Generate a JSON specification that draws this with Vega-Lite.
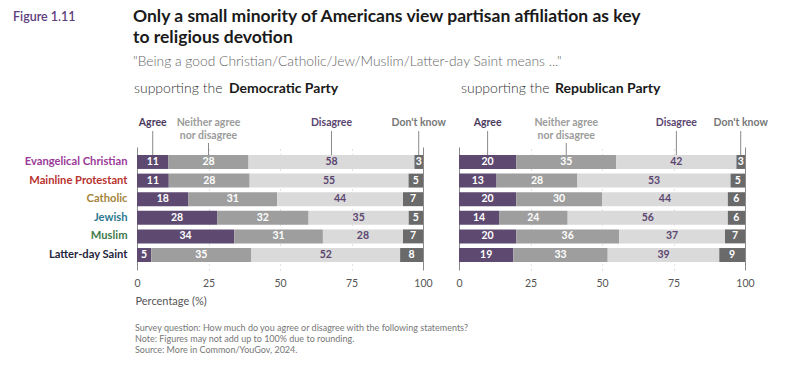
{
  "$schema": "https://vega.github.io/schema/vega-lite/v6.json",
  "padding": {"left": 13, "top": 8, "right": 5, "bottom": 0},
  "bounds": "flush",
  "spacing": 36,
  "config": {"view": {"stroke": null}, "font": "Lato"},
  "datasets": {
    "survey": [
      {"party": "Democratic", "religion": "Evangelical Christian", "category": "Agree", "order": 1, "value": 11},
      {"party": "Democratic", "religion": "Evangelical Christian", "category": "Neither agree nor disagree", "order": 2, "value": 28},
      {"party": "Democratic", "religion": "Evangelical Christian", "category": "Disagree", "order": 3, "value": 58},
      {"party": "Democratic", "religion": "Evangelical Christian", "category": "Don't know", "order": 4, "value": 3},
      {"party": "Democratic", "religion": "Mainline Protestant", "category": "Agree", "order": 1, "value": 11},
      {"party": "Democratic", "religion": "Mainline Protestant", "category": "Neither agree nor disagree", "order": 2, "value": 28},
      {"party": "Democratic", "religion": "Mainline Protestant", "category": "Disagree", "order": 3, "value": 55},
      {"party": "Democratic", "religion": "Mainline Protestant", "category": "Don't know", "order": 4, "value": 5},
      {"party": "Democratic", "religion": "Catholic", "category": "Agree", "order": 1, "value": 18},
      {"party": "Democratic", "religion": "Catholic", "category": "Neither agree nor disagree", "order": 2, "value": 31},
      {"party": "Democratic", "religion": "Catholic", "category": "Disagree", "order": 3, "value": 44},
      {"party": "Democratic", "religion": "Catholic", "category": "Don't know", "order": 4, "value": 7},
      {"party": "Democratic", "religion": "Jewish", "category": "Agree", "order": 1, "value": 28},
      {"party": "Democratic", "religion": "Jewish", "category": "Neither agree nor disagree", "order": 2, "value": 32},
      {"party": "Democratic", "religion": "Jewish", "category": "Disagree", "order": 3, "value": 35},
      {"party": "Democratic", "religion": "Jewish", "category": "Don't know", "order": 4, "value": 5},
      {"party": "Democratic", "religion": "Muslim", "category": "Agree", "order": 1, "value": 34},
      {"party": "Democratic", "religion": "Muslim", "category": "Neither agree nor disagree", "order": 2, "value": 31},
      {"party": "Democratic", "religion": "Muslim", "category": "Disagree", "order": 3, "value": 28},
      {"party": "Democratic", "religion": "Muslim", "category": "Don't know", "order": 4, "value": 7},
      {"party": "Democratic", "religion": "Latter-day Saint", "category": "Agree", "order": 1, "value": 5},
      {"party": "Democratic", "religion": "Latter-day Saint", "category": "Neither agree nor disagree", "order": 2, "value": 35},
      {"party": "Democratic", "religion": "Latter-day Saint", "category": "Disagree", "order": 3, "value": 52},
      {"party": "Democratic", "religion": "Latter-day Saint", "category": "Don't know", "order": 4, "value": 8},
      {"party": "Republican", "religion": "Evangelical Christian", "category": "Agree", "order": 1, "value": 20},
      {"party": "Republican", "religion": "Evangelical Christian", "category": "Neither agree nor disagree", "order": 2, "value": 35},
      {"party": "Republican", "religion": "Evangelical Christian", "category": "Disagree", "order": 3, "value": 42},
      {"party": "Republican", "religion": "Evangelical Christian", "category": "Don't know", "order": 4, "value": 3},
      {"party": "Republican", "religion": "Mainline Protestant", "category": "Agree", "order": 1, "value": 13},
      {"party": "Republican", "religion": "Mainline Protestant", "category": "Neither agree nor disagree", "order": 2, "value": 28},
      {"party": "Republican", "religion": "Mainline Protestant", "category": "Disagree", "order": 3, "value": 53},
      {"party": "Republican", "religion": "Mainline Protestant", "category": "Don't know", "order": 4, "value": 5},
      {"party": "Republican", "religion": "Catholic", "category": "Agree", "order": 1, "value": 20},
      {"party": "Republican", "religion": "Catholic", "category": "Neither agree nor disagree", "order": 2, "value": 30},
      {"party": "Republican", "religion": "Catholic", "category": "Disagree", "order": 3, "value": 44},
      {"party": "Republican", "religion": "Catholic", "category": "Don't know", "order": 4, "value": 6},
      {"party": "Republican", "religion": "Jewish", "category": "Agree", "order": 1, "value": 14},
      {"party": "Republican", "religion": "Jewish", "category": "Neither agree nor disagree", "order": 2, "value": 24},
      {"party": "Republican", "religion": "Jewish", "category": "Disagree", "order": 3, "value": 56},
      {"party": "Republican", "religion": "Jewish", "category": "Don't know", "order": 4, "value": 6},
      {"party": "Republican", "religion": "Muslim", "category": "Agree", "order": 1, "value": 20},
      {"party": "Republican", "religion": "Muslim", "category": "Neither agree nor disagree", "order": 2, "value": 36},
      {"party": "Republican", "religion": "Muslim", "category": "Disagree", "order": 3, "value": 37},
      {"party": "Republican", "religion": "Muslim", "category": "Don't know", "order": 4, "value": 7},
      {"party": "Republican", "religion": "Latter-day Saint", "category": "Agree", "order": 1, "value": 19},
      {"party": "Republican", "religion": "Latter-day Saint", "category": "Neither agree nor disagree", "order": 2, "value": 33},
      {"party": "Republican", "religion": "Latter-day Saint", "category": "Disagree", "order": 3, "value": 39},
      {"party": "Republican", "religion": "Latter-day Saint", "category": "Don't know", "order": 4, "value": 9}
    ]
  },
  "hconcat": [
    {
      "width": 286,
      "height": 123,
      "data": {"name": "survey"},
      "transform": [
        {"filter": "datum.party === 'Democratic'"},
        {"stack": "value", "groupby": ["religion"], "sort": [{"field": "order"}], "offset": "normalize", "as": ["x0", "x1"]},
        {"calculate": "(datum.x0 + datum.x1) / 2", "as": "xm"}
      ],
      "layer": [
        {
          "mark": {"type": "bar"},
          "encoding": {
            "y": {
              "field": "religion", "type": "nominal",
              "sort": ["Evangelical Christian", "Mainline Protestant", "Catholic", "Jewish", "Muslim", "Latter-day Saint"],
              "scale": {"paddingInner": 0.25, "paddingOuter": 0.43},
              "axis": {
                "title": null, "domain": false, "ticks": false, "labelPadding": 10,
                "labelFontSize": 11.2, "labelFontWeight": "bold",
                "labelColor": {
                  "condition": [
                    {"test": "datum.value === 'Evangelical Christian'", "value": "#9a3a98"},
                    {"test": "datum.value === 'Mainline Protestant'", "value": "#b8332f"},
                    {"test": "datum.value === 'Catholic'", "value": "#a4853c"},
                    {"test": "datum.value === 'Jewish'", "value": "#2f7890"},
                    {"test": "datum.value === 'Muslim'", "value": "#3f7a4b"}
                  ],
                  "value": "#1f2640"
                }
              }
            },
            "x": {
              "field": "x0", "type": "quantitative", "scale": {"domain": [0, 1]},
              "axis": {
                "values": [0, 0.25, 0.5, 0.75, 1],
                "labelExpr": "format(datum.value * 100, 'd')",
                "domain": false, "ticks": false, "grid": true, "labelFlush": false,
                "gridColor": {"condition": {"test": "datum.value === 0 || datum.value === 1", "value": "#8a8a8a"}, "value": "#c4c4c4"},
                "gridDash": {"condition": {"test": "datum.value === 0 || datum.value === 1", "value": []}, "value": [1, 4]},
                "labelFontSize": 10.5, "labelColor": "#555555", "labelPadding": 8,
                "title": "Percentage (%)", "titleFontWeight": "normal", "titleFontSize": 11, "titleColor": "#555555",
                "titleAnchor": "start", "titleAlign": "left", "titleBaseline": "middle", "titleX": -2, "titleY": 31
              }
            },
            "x2": {"field": "x1"},
            "color": {
              "field": "category", "type": "nominal",
              "scale": {"domain": ["Agree", "Neither agree nor disagree", "Disagree", "Don't know"], "range": ["#5e4a70", "#9e9e9e", "#dadada", "#6a6a6a"]},
              "legend": null
            }
          }
        },
        {
          "mark": {"type": "text", "fontWeight": "bold", "fontSize": 10.5, "baseline": "middle"},
          "encoding": {
            "y": {"field": "religion", "type": "nominal", "sort": ["Evangelical Christian", "Mainline Protestant", "Catholic", "Jewish", "Muslim", "Latter-day Saint"]},
            "x": {"field": "xm", "type": "quantitative"},
            "text": {"field": "value"},
            "color": {"condition": {"test": "datum.category === 'Disagree'", "value": "#5b4670"}, "value": "#ffffff"}
          }
        },
        {
          "transform": [
            {"filter": "datum.religion === 'Evangelical Christian'"},
            {"calculate": "datum.category === 'Neither agree nor disagree' ? ['Neither agree', 'nor disagree'] : datum.category", "as": "header"}
          ],
          "mark": {"type": "text", "fontWeight": "bold", "fontSize": 10.5, "baseline": "top", "lineHeight": 12.5},
          "encoding": {
            "x": {"field": "xm", "type": "quantitative"},
            "y": {"value": -29},
            "text": {"field": "header"},
            "color": {
              "condition": [
                {"test": "datum.category === 'Agree'", "value": "#4b3b5e"},
                {"test": "datum.category === 'Disagree'", "value": "#5b4670"},
                {"test": "datum.category === 'Don\\'t know'", "value": "#777777"}
              ],
              "value": "#9c9c9c"
            }
          }
        },
        {
          "transform": [{"filter": "datum.religion === 'Evangelical Christian' && datum.order !== 2"}],
          "mark": {"type": "rule", "color": "#8a8a8a", "strokeWidth": 1},
          "encoding": {"x": {"field": "xm", "type": "quantitative"}, "y": {"value": -16}, "y2": {"value": 8}}
        },
        {
          "transform": [{"filter": "datum.religion === 'Evangelical Christian' && datum.order === 2"}],
          "mark": {"type": "rule", "color": "#8a8a8a", "strokeWidth": 1},
          "encoding": {"x": {"field": "xm", "type": "quantitative"}, "y": {"value": -4}, "y2": {"value": 8}}
        },
        {
          "transform": [{"filter": "datum.religion === 'Evangelical Christian' && datum.order === 1"}],
          "layer": [
            {
              "mark": {"type": "text", "text": "Figure 1.11", "fontSize": 12.5, "fontWeight": 600, "color": "#5d3d7c", "align": "left", "baseline": "middle"},
              "encoding": {"x": {"value": -124}, "y": {"value": -130}}
            },
            {
              "mark": {"type": "text", "text": ["Only a small minority of Americans view partisan affiliation as key", "to religious devotion"], "fontSize": 17.5, "fontWeight": "bold", "color": "#1a1a1a", "align": "left", "baseline": "middle", "lineHeight": 21},
              "encoding": {"x": {"value": -4}, "y": {"value": -130}}
            },
            {
              "mark": {"type": "text", "text": "\"Being a good Christian/Catholic/Jew/Muslim/Latter-day Saint means ...\"", "fontSize": 13.8, "fontWeight": 300, "color": "#666666", "align": "left", "baseline": "middle"},
              "encoding": {"x": {"value": -4}, "y": {"value": -85}}
            },
            {
              "mark": {"type": "text", "text": "supporting the", "fontSize": 14, "fontWeight": 300, "color": "#333333", "align": "left", "baseline": "middle"},
              "encoding": {"x": {"value": -3}, "y": {"value": -58}}
            },
            {
              "mark": {"type": "text", "text": "Democratic Party", "fontSize": 14, "fontWeight": "bold", "color": "#1a1a1a", "align": "left", "baseline": "middle"},
              "encoding": {"x": {"value": 92}, "y": {"value": -58}}
            },
            {
              "mark": {"type": "text", "text": ["Survey question: How much do you agree or disagree with the following statements?", "Note: Figures may not add up to 100% due to rounding.", "Source: More in Common/YouGov, 2024."], "fontSize": 9, "color": "#777777", "align": "left", "baseline": "middle", "lineHeight": 11},
              "encoding": {"x": {"value": -2}, "y": {"value": 181}}
            }
          ]
        }
      ]
    },
    {
      "width": 286,
      "height": 123,
      "data": {"name": "survey"},
      "transform": [
        {"filter": "datum.party === 'Republican'"},
        {"stack": "value", "groupby": ["religion"], "sort": [{"field": "order"}], "offset": "normalize", "as": ["x0", "x1"]},
        {"calculate": "(datum.x0 + datum.x1) / 2", "as": "xm"}
      ],
      "layer": [
        {
          "mark": {"type": "bar"},
          "encoding": {
            "y": {
              "field": "religion", "type": "nominal",
              "sort": ["Evangelical Christian", "Mainline Protestant", "Catholic", "Jewish", "Muslim", "Latter-day Saint"],
              "scale": {"paddingInner": 0.25, "paddingOuter": 0.43},
              "axis": null
            },
            "x": {
              "field": "x0", "type": "quantitative", "scale": {"domain": [0, 1]},
              "axis": {
                "values": [0, 0.25, 0.5, 0.75, 1],
                "labelExpr": "format(datum.value * 100, 'd')",
                "domain": false, "ticks": false, "grid": true, "labelFlush": false,
                "gridColor": {"condition": {"test": "datum.value === 0 || datum.value === 1", "value": "#8a8a8a"}, "value": "#c4c4c4"},
                "gridDash": {"condition": {"test": "datum.value === 0 || datum.value === 1", "value": []}, "value": [1, 4]},
                "labelFontSize": 10.5, "labelColor": "#555555", "labelPadding": 8,
                "title": null
              }
            },
            "x2": {"field": "x1"},
            "color": {
              "field": "category", "type": "nominal",
              "scale": {"domain": ["Agree", "Neither agree nor disagree", "Disagree", "Don't know"], "range": ["#5e4a70", "#9e9e9e", "#dadada", "#6a6a6a"]},
              "legend": null
            }
          }
        },
        {
          "mark": {"type": "text", "fontWeight": "bold", "fontSize": 10.5, "baseline": "middle"},
          "encoding": {
            "y": {"field": "religion", "type": "nominal", "sort": ["Evangelical Christian", "Mainline Protestant", "Catholic", "Jewish", "Muslim", "Latter-day Saint"]},
            "x": {"field": "xm", "type": "quantitative"},
            "text": {"field": "value"},
            "color": {"condition": {"test": "datum.category === 'Disagree'", "value": "#5b4670"}, "value": "#ffffff"}
          }
        },
        {
          "transform": [
            {"filter": "datum.religion === 'Evangelical Christian'"},
            {"calculate": "datum.category === 'Neither agree nor disagree' ? ['Neither agree', 'nor disagree'] : datum.category", "as": "header"}
          ],
          "mark": {"type": "text", "fontWeight": "bold", "fontSize": 10.5, "baseline": "top", "lineHeight": 12.5},
          "encoding": {
            "x": {"field": "xm", "type": "quantitative"},
            "y": {"value": -29},
            "text": {"field": "header"},
            "color": {
              "condition": [
                {"test": "datum.category === 'Agree'", "value": "#4b3b5e"},
                {"test": "datum.category === 'Disagree'", "value": "#5b4670"},
                {"test": "datum.category === 'Don\\'t know'", "value": "#777777"}
              ],
              "value": "#9c9c9c"
            }
          }
        },
        {
          "transform": [{"filter": "datum.religion === 'Evangelical Christian' && datum.order !== 2"}],
          "mark": {"type": "rule", "color": "#8a8a8a", "strokeWidth": 1},
          "encoding": {"x": {"field": "xm", "type": "quantitative"}, "y": {"value": -16}, "y2": {"value": 8}}
        },
        {
          "transform": [{"filter": "datum.religion === 'Evangelical Christian' && datum.order === 2"}],
          "mark": {"type": "rule", "color": "#8a8a8a", "strokeWidth": 1},
          "encoding": {"x": {"field": "xm", "type": "quantitative"}, "y": {"value": -4}, "y2": {"value": 8}}
        },
        {
          "transform": [{"filter": "datum.religion === 'Evangelical Christian' && datum.order === 1"}],
          "layer": [
            {
              "mark": {"type": "text", "text": "supporting the", "fontSize": 14, "fontWeight": 300, "color": "#333333", "align": "left", "baseline": "middle"},
              "encoding": {"x": {"value": 2}, "y": {"value": -58}}
            },
            {
              "mark": {"type": "text", "text": "Republican Party", "fontSize": 14, "fontWeight": "bold", "color": "#1a1a1a", "align": "left", "baseline": "middle"},
              "encoding": {"x": {"value": 96}, "y": {"value": -58}}
            }
          ]
        }
      ]
    }
  ]
}
